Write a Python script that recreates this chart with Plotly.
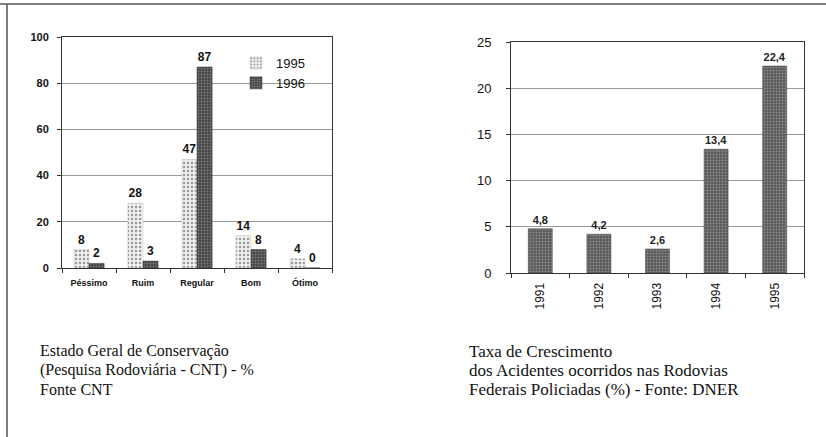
import plotly.graph_objects as go

# ---- data ----
cons_categories = ["Péssimo", "Ruim", "Regular", "Bom", "Ótimo"]
cons_1995 = [8, 28, 47, 14, 4]
cons_1996 = [2, 3, 87, 8, 0]

years = ["1991", "1992", "1993", "1994", "1995"]
growth = [4.8, 4.2, 2.6, 13.4, 22.4]

left_caption = ["Estado Geral de Conservação",
                "(Pesquisa Rodoviária - CNT) - %",
                "Fonte CNT"]
right_caption = ["Taxa de Crescimento",
                 "dos Acidentes ocorridos nas Rodovias",
                 "Federais Policiadas (%) - Fonte: DNER"]

W, H = 826, 437
def px(x): return x / W
def py(y): return 1 - y / H

fig = go.Figure()

fig.add_trace(go.Bar(
    x=cons_categories, y=cons_1995, name="1995",
    xaxis="x", yaxis="y",
    marker=dict(color="#f0f0f0", line=dict(color="#c8c8c8", width=0.5),
                pattern=dict(shape=".", fgcolor="#9a9a9a", bgcolor="#f0f0f0", size=4, solidity=0.3)),
    text=[str(v) for v in cons_1995], textposition="outside", cliponaxis=False,
    textfont=dict(family="Arial, Liberation Sans", size=12, color="#111", weight="bold"),
))
fig.add_trace(go.Bar(
    x=cons_categories, y=cons_1996, name="1996",
    xaxis="x", yaxis="y",
    marker=dict(color="#4a4a4a", line=dict(color="#333", width=0.5),
                pattern=dict(shape=".", fgcolor="#7a7a7a", bgcolor="#454545", size=3, solidity=0.4)),
    text=[str(v) for v in cons_1996], textposition="outside", cliponaxis=False,
    textfont=dict(family="Arial, Liberation Sans", size=12, color="#111", weight="bold"),
))
fig.add_trace(go.Bar(
    x=years, y=growth, name="growth", showlegend=False,
    xaxis="x2", yaxis="y2", width=0.41,
    marker=dict(color="#5f5f5f", line=dict(color="#444", width=0.5),
                pattern=dict(shape=".", fgcolor="#8c8c8c", bgcolor="#5a5a5a", size=3, solidity=0.35)),
    text=[f"{v:.1f}".replace(".", ",") for v in growth], textposition="outside", cliponaxis=False,
    textfont=dict(family="Arial, Liberation Sans", size=11, color="#222", weight="bold"),
))

axis_common = dict(showline=True, linecolor="#333", linewidth=1, mirror=True,
                   ticks="outside", ticklen=4, tickcolor="#333", automargin=False)

fig.update_layout(
    template="none",
    width=W, height=H, margin=dict(l=0, r=0, t=0, b=0, pad=0, autoexpand=False),
    paper_bgcolor="white", plot_bgcolor="white",
    barmode="group", bargap=0.44, bargroupgap=0,
    separators=",.",
    xaxis=dict(domain=[px(62), px(332)], anchor="y", type="category",
               tickson="boundaries", showgrid=False,
               tickfont=dict(family="Arial, Liberation Sans", size=9, color="#111", weight="bold"),
               ticklabelstandoff=6, **axis_common),
    yaxis=dict(domain=[py(268), py(37)], anchor="x", range=[0, 100], dtick=20,
               showgrid=True, gridcolor="#9a9a9a", gridwidth=1, zeroline=False,
               tickfont=dict(family="Arial, Liberation Sans", size=11, color="#111", weight="bold"),
               ticklabelstandoff=6, **axis_common),
    xaxis2=dict(domain=[px(511), px(804)], anchor="y2", type="category",
                tickson="boundaries", showgrid=False, tickangle=-90,
                tickfont=dict(family="Arial, Liberation Sans", size=12, color="#111"),
                ticklabelstandoff=4, **axis_common),
    yaxis2=dict(domain=[py(273), py(42)], anchor="x2", range=[0, 25], dtick=5,
                showgrid=True, gridcolor="#9a9a9a", gridwidth=1, zeroline=False,
                tickfont=dict(family="Arial, Liberation Sans", size=13, color="#111"),
                ticklabelstandoff=12, **axis_common),
    legend=dict(x=px(236), y=py(48), xanchor="left", yanchor="top",
                bgcolor="rgba(0,0,0,0)", borderwidth=0,
                font=dict(family="Arial, Liberation Sans", size=13, color="#111"),
                itemwidth=30, tracegroupgap=0),
    shapes=[
        dict(type="line", xref="paper", yref="paper", x0=0, x1=1, y0=py(4), y1=py(4),
             line=dict(color="#555", width=1.5)),
        dict(type="line", xref="paper", yref="paper", x0=px(7), x1=px(7), y0=0, y1=py(4),
             line=dict(color="#555", width=1.5)),
    ],
)

ann = []
line_y = [351, 370, 389]
for i, t in enumerate(left_caption):
    ann.append(dict(text=t, xref="paper", yref="paper", x=px(38), y=py(line_y[i]),
                    xanchor="left", yanchor="middle", showarrow=False,
                    font=dict(family="Liberation Serif, DejaVu Serif, serif", size=16, color="#111")))
for i, t in enumerate(right_caption):
    ann.append(dict(text=t, xref="paper", yref="paper", x=px(467), y=py(line_y[i]),
                    xanchor="left", yanchor="middle", showarrow=False,
                    font=dict(family="Liberation Serif, DejaVu Serif, serif", size=17, color="#111")))
fig.update_layout(annotations=ann)

page_fix = (
    "var s=document.documentElement.style;s.margin='0';s.padding='0';s.overflow='hidden';s.height='437px';"
    "var b=document.body.style;b.margin='0';b.padding='0';b.overflow='hidden';b.height='437px';"
)
fig.write_html("out.html", config={"displayModeBar": False}, post_script=page_fix)
